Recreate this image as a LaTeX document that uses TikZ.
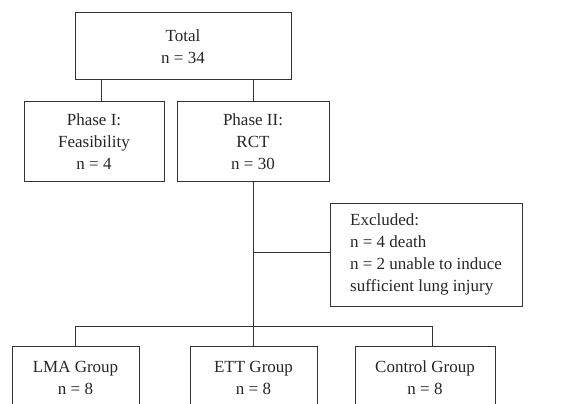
\documentclass[tikz,border=0pt]{standalone}
\usepackage{fontspec}
\setmainfont{Liberation Serif}
\begin{document}
\begin{tikzpicture}[x=1pt,y=-1pt,
  box/.style={draw=black!80, line width=1pt, rectangle, inner sep=0pt,
    font=\fontsize{17}{22}\selectfont, align=center, text=black!85},
  conn/.style={draw=black!80, line width=1pt}]
\useasboundingbox (0,0) rectangle (579,404);
\clip (0,0) rectangle (579,404);
\node[box, minimum width=216, minimum height=67] (total) at (183,46.5) {Total\\n = 34};
\node[box, minimum width=140, minimum height=79] (p1) at (94,141.5) {Phase I:\\Feasibility\\n = 4};
\node[box, minimum width=152, minimum height=79] (p2) at (253,141.5) {Phase II:\\RCT\\n = 30};
\node[box, minimum width=192, minimum height=103, align=left] (exc) at (426,254.5)
  {Excluded:\\n = 4 death\\n = 2 unable to induce\\sufficient lung injury};
\node[box, minimum width=127, minimum height=63] (lma) at (75.5,377.5) {LMA Group\\n = 8};
\node[box, minimum width=127, minimum height=63] (ett) at (253.5,377.5) {ETT Group\\n = 8};
\node[box, minimum width=140, minimum height=63] (ctl) at (425,377.5) {Control Group\\n = 8};
\coordinate (x1) at (101,0);
\coordinate (x2) at (253,0);
\coordinate (xl) at (75,0);
\coordinate (xc) at (432,0);
\coordinate (ybus) at (0,326);
\coordinate (yexc) at (0,252);
\draw[conn] (total.south -| x1) -- (p1.north -| x1);
\draw[conn] (total.south -| x2) -- (p2.north -| x2);
\draw[conn] (p2.south -| x2) -- (ett.north -| x2);
\draw[conn] (x2 |- yexc) -- (exc.west |- yexc);
\draw[conn] (lma.north -| xl) -- (xl |- ybus) -- (xc |- ybus) -- (ctl.north -| xc);
\end{tikzpicture}
\end{document}
